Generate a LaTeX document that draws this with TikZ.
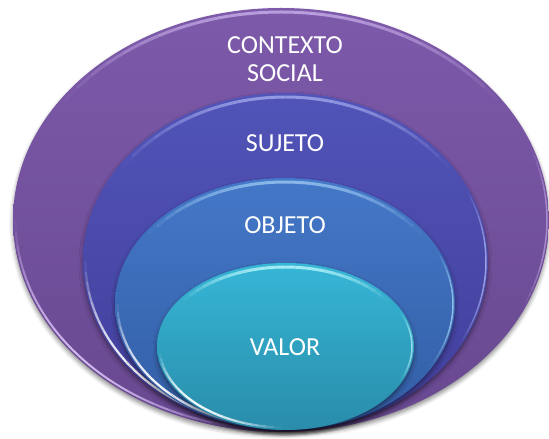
\documentclass[tikz,border=0pt]{standalone}
\usepackage{fontspec}
\setmainfont{Carlito}
\usetikzlibrary{shapes.geometric,shadows.blur}
\definecolor{ctxTop}{HTML}{7D5AAA}
\definecolor{ctxBot}{HTML}{684890}
\definecolor{ctxHi}{HTML}{E2CCFF}
\definecolor{sujTop}{HTML}{5154B8}
\definecolor{sujBot}{HTML}{413E9A}
\definecolor{sujHi}{HTML}{C0C8FF}
\definecolor{objTop}{HTML}{4478C8}
\definecolor{objBot}{HTML}{325DA4}
\definecolor{objHi}{HTML}{B8E4FF}
\definecolor{valTop}{HTML}{37B6D6}
\definecolor{valBot}{HTML}{298CAA}
\definecolor{valHi}{HTML}{C8FFFF}
\newcommand{\glossarc}[9]{% node, rx, ry, inset, start, end, peak, width, colour
  \foreach \t in {0,...,23}{
    \pgfmathsetmacro\aa{#5+(#6-#5)*\t/24}
    \pgfmathsetmacro\bb{#5+(#6-#5)*(\t+1)/24}
    \pgfmathsetmacro\op{#7*sin(180*(\t+0.5)/24)}
    \draw[#9, opacity=\op, line width=#8]
      (#1.center) ++(\aa:#2-#4 and #3-#4) arc[start angle=\aa, end angle=\bb, x radius=#2-#4, y radius=#3-#4];
  }}
\begin{document}
\begin{tikzpicture}[x=1pt,y=1pt,
  ring/.style={ellipse, inner sep=0pt, draw=none,
    top color=#1Top, bottom color=#1Bot,
    blur shadow={shadow xshift=0pt, shadow yshift=-3pt,
      shadow blur radius=4pt, shadow opacity=45}},
  label/.style={text=white, font=\fontsize{26}{28}\selectfont, align=center, inner sep=0pt}]
\useasboundingbox (0,0) rectangle (549,439);
% rings
\node[ring=ctx, minimum width=536pt, minimum height=424pt] (ctx) at (281,219) {};
\glossarc{ctx}{268}{212}{4}{35}{145}{0.6}{3pt}{ctxHi}
\glossarc{ctx}{268}{212}{2.5}{180}{262}{0.85}{2pt}{ctxHi}
\glossarc{ctx}{268}{212}{2}{-25}{20}{0.5}{1.5pt}{ctxHi}
\node[ring=suj, minimum width=405pt, minimum height=337pt] (suj) at (285.5,177.5) {};
\glossarc{suj}{202.5}{168.5}{4}{35}{145}{0.6}{3pt}{sujHi}
\glossarc{suj}{202.5}{168.5}{2.5}{180}{265}{0.95}{2.2pt}{white}
\glossarc{suj}{202.5}{168.5}{2}{-30}{25}{0.7}{1.5pt}{sujHi}
\node[ring=obj, minimum width=340pt, minimum height=252pt] (obj) at (285,135) {};
\glossarc{obj}{170}{126}{4}{35}{145}{0.6}{3pt}{objHi}
\glossarc{obj}{170}{126}{2.5}{180}{265}{0.95}{2.2pt}{white}
\glossarc{obj}{170}{126}{2}{-30}{25}{0.7}{1.5pt}{objHi}
\node[ring=val, minimum width=257pt, minimum height=167pt] (val) at (285.5,92.5) {};
\glossarc{val}{128.5}{83.5}{4}{35}{145}{0.75}{3pt}{valHi}
\glossarc{val}{128.5}{83.5}{2.5}{185}{268}{0.95}{2.2pt}{white}
\glossarc{val}{128.5}{83.5}{2}{-25}{25}{0.7}{1.5pt}{valHi}
% labels
\node[label, anchor=base] (tctx) at (285,385.6) {CONTEXTO};
\node[label, anchor=base] (tsoc) at (285,357.4) {SOCIAL};
\node[label, anchor=base] (tsuj) at (285,287.2) {SUJETO};
\node[label, anchor=base] (tobj) at (285,205.8) {OBJETO};
\node[label, anchor=base] (tval) at (285,83.8) {VALOR};
\end{tikzpicture}
\end{document}
